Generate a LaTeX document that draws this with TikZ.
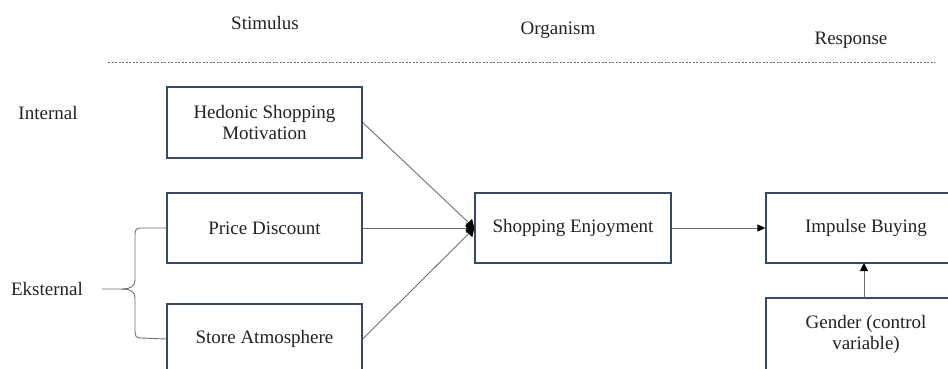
\documentclass[tikz,border=0pt]{standalone}
\usepackage{fontspec}
\setmainfont{Liberation Serif}
\usetikzlibrary{arrows.meta}
\definecolor{boxblue}{HTML}{3A4868}
\definecolor{linegray}{HTML}{6E6E6E}
\definecolor{txt}{HTML}{222222}
\tikzset{
  stagebox/.style={draw=boxblue, line width=1.3pt, fill=white, minimum width=195pt, minimum height=71pt, align=center, inner sep=0pt, text=txt, font=\fontsize{19}{21}\selectfont},
  lbl/.style={text=txt, font=\fontsize{19}{21}\selectfont, inner sep=0pt},
  conn/.style={draw=linegray, line width=0.9pt},
  connb/.style={draw=linegray, line width=0.9pt, -{Triangle[length=8pt,width=10pt,color=black]}},
}
\begin{document}
\begin{tikzpicture}[x=1pt,y=-1pt]
\useasboundingbox (0,0) rectangle (948,368);
\begin{scope}
\clip (0,0) rectangle (948,368);
% headers
\node[lbl] (stim) at (265,23) {Stimulus};
\node[lbl] (org) at (558,30) {Organism};
\node[lbl] (resp) at (851,40) {Response};
\coordinate (dl) at (108,62);
\coordinate (dr) at (935,62);
\draw[linegray, line width=0.6pt, dash pattern=on 2pt off 1.5pt] (dl) -- (dr);
% side labels
\node[lbl] (int) at (48,113) {Internal};
\node[lbl] (eks) at (47,289) {Eksternal};
% boxes
\node[stagebox] (hed) at (264.5,122.5) {Hedonic Shopping\\Motivation};
\node[stagebox, minimum height=70pt] (price) at (264.5,228) {Price Discount};
\node[stagebox, minimum height=70pt] (store) at (264.5,339) {Store Atmosphere};
\node[stagebox, minimum height=70pt, minimum width=196pt] (enjoy) at (573,228) {Shopping Enjoyment};
\node[stagebox, minimum height=70pt, minimum width=200pt] (imp) at (866,228) {Impulse Buying};
\node[stagebox, minimum height=72pt, minimum width=200pt] (gen) at (866,334) {Gender (control\\variable)};
% connectors
\draw[connb] (hed.east) -- (enjoy.west);
\draw[connb] (price.east) -- (enjoy.west);
\draw[connb] (store.east) -- (enjoy.west);
\draw[conn, -{Triangle[length=8pt,width=7pt,color=black]}] (enjoy.east) -- (imp.west);
\coordinate (ga) at (864,298);
\coordinate (gb) at (864,263);
\draw[conn, -{Triangle[length=8pt,width=8pt,color=black]}] (ga) -- (gb);
% brace
\coordinate (bt) at (price.west);
\coordinate (bb) at (store.west);
\coordinate (btip) at (102,289);
\draw[linegray, line width=0.9pt]
  (bt) -- (141,228) .. controls (136,228) and (135,230) .. (135,235)
  -- (135,280) .. controls (135,286) and (131,289) .. (122,289) -- (btip);
\draw[linegray, line width=0.9pt]
  (bb) -- (141,338) .. controls (136,338) and (135,336) .. (135,331)
  -- (135,298) .. controls (135,292) and (131,289) .. (122,289);
\end{scope}
\end{tikzpicture}
\end{document}
